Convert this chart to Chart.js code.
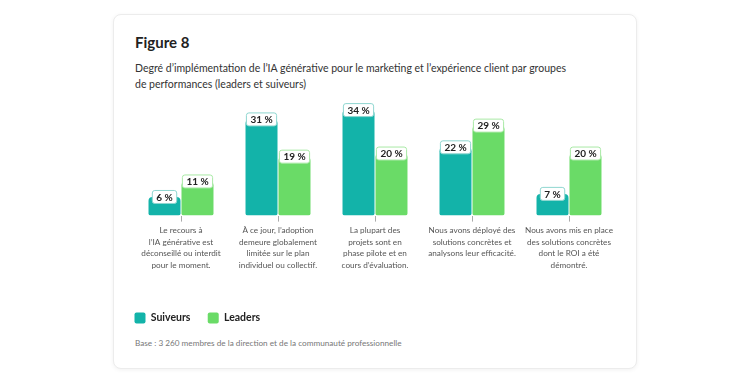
<!DOCTYPE html>
<html>
<head>
<meta charset="utf-8">
<script src="https://cdn.jsdelivr.net/npm/chart.js@4.4.1/dist/chart.umd.min.js"></script>
<style>
  html, body { margin: 0; padding: 0; background: #ffffff; width: 750px; height: 381px; overflow: hidden; }
  body { font-family: Lato, "Open Sans", sans-serif; position: relative; }
  .card { position: absolute; left: 113px; top: 14px; width: 522px; height: 353px; background: #fff;
          border: 1px solid #ececec; border-radius: 8px; box-shadow: 0 1px 4px rgba(0,0,0,0.06); }
  .title { position: absolute; left: 135px; top: 33px; font-size: 15px; font-weight: 700; color: #222; }
  .sub { position: absolute; left: 135px; top: 60px; width: 440px; font-size: 10.5px; line-height: 16px; color: #333; }
  .foot { position: absolute; left: 135px; top: 338px; font-size: 8.2px; color: #777; }
  #wrap { position: absolute; left: 113px; top: 95px; width: 523px; height: 240px; }
</style>
</head>
<body>
<div class="card"></div>
<div class="title">Figure 8</div>
<div class="sub">Degré d’implémentation de l’IA générative pour le marketing et l’expérience client par groupes de performances (leaders et suiveurs)</div>
<div id="wrap"><canvas id="c"></canvas></div>
<div class="foot">Base : 3 260 membres de la direction et de la communauté professionnelle</div>
<script>
const categories = [
  ["Le recours à", "l’IA générative est", "déconseillé ou interdit", "pour le moment."],
  ["À ce jour, l’adoption", "demeure globalement", "limitée sur le plan", "individuel ou collectif."],
  ["La plupart des", "projets sont en", "phase pilote et en", "cours d’évaluation."],
  ["Nous avons déployé des", "solutions concrètes et", "analysons leur efficacité."],
  ["Nous avons mis en place", "des solutions concrètes", "dont le ROI a été", "démontré."]
];
const suiveurs = [6, 31, 34, 22, 7];
const leaders = [11, 19, 20, 29, 20];
const seriesNames = ["Suiveurs", "Leaders"];

const FONT = 'Lato, "Open Sans", sans-serif';

const labelBoxes = {
  id: 'labelBoxes',
  afterDatasetsDraw(chart) {
    const ctx = chart.ctx;
    ctx.save();
    ctx.font = '700 10px ' + FONT;
    ctx.textAlign = 'center';
    ctx.textBaseline = 'middle';
    chart.data.datasets.forEach((ds, di) => {
      const meta = chart.getDatasetMeta(di);
      meta.data.forEach((bar, i) => {
        const txt = ds.data[i] + ' %';
        const w = ctx.measureText(txt).width + 8;
        const h = 13;
        const x = bar.x - w / 2, y = bar.y - h / 2;
        ctx.beginPath();
        ctx.roundRect(x, y, w, h, 2.5);
        ctx.fillStyle = '#ffffff';
        ctx.fill();
        ctx.lineWidth = 1;
        ctx.strokeStyle = ds.labelBorder;
        ctx.stroke();
        ctx.fillStyle = '#222';
        ctx.fillText(txt, bar.x, bar.y + 0.5);
      });
    });
    ctx.restore();
  }
};

new Chart(document.getElementById('c'), {
  type: 'bar',
  data: {
    labels: categories,
    datasets: [
      { label: seriesNames[0], data: suiveurs, backgroundColor: '#13B3A9', labelBorder: '#8fd6d0',
        borderRadius: {topLeft: 4, topRight: 4, bottomLeft: 2, bottomRight: 2}, borderSkipped: false,
        categoryPercentage: 0.68, barPercentage: 0.97 },
      { label: seriesNames[1], data: leaders, backgroundColor: '#6ADB67', labelBorder: '#a9e9a6',
        borderRadius: {topLeft: 4, topRight: 4, bottomLeft: 2, bottomRight: 2}, borderSkipped: false,
        categoryPercentage: 0.68, barPercentage: 0.97 }
    ]
  },
  options: {
    responsive: true,
    maintainAspectRatio: false,
    animation: false,
    layout: { padding: { left: 19.5, right: 18.5, top: 12, bottom: 1.4 } },
    plugins: {
      tooltip: { enabled: false },
      legend: {
        position: 'bottom',
        align: 'start',
        labels: {
          boxWidth: 11, boxHeight: 11, padding: 2, color: '#222',
          font: { family: FONT, size: 10.5, weight: '700' },
          useBorderRadius: true, borderRadius: 2,
          generateLabels(chart) {
            const items = Chart.defaults.plugins.legend.labels.generateLabels(chart);
            items.forEach(it => { it.text = it.text + '      '; });
            return items;
          }
        }
      }
    },
    scales: {
      x: {
        grid: { display: true, drawOnChartArea: false, drawTicks: true, tickLength: 6, color: '#aaa', offset: false },
        border: { display: false },
        ticks: { color: '#555', padding: 3, maxRotation: 0, autoSkip: false,
                 font: { family: FONT, size: 8.2, lineHeight: 1.42 } },
        afterFit(scale) { scale.height = 95; }
      },
      y: { display: false, min: 0, max: 35 }
    }
  },
  plugins: [labelBoxes]
});
</script>
</body>
</html>
